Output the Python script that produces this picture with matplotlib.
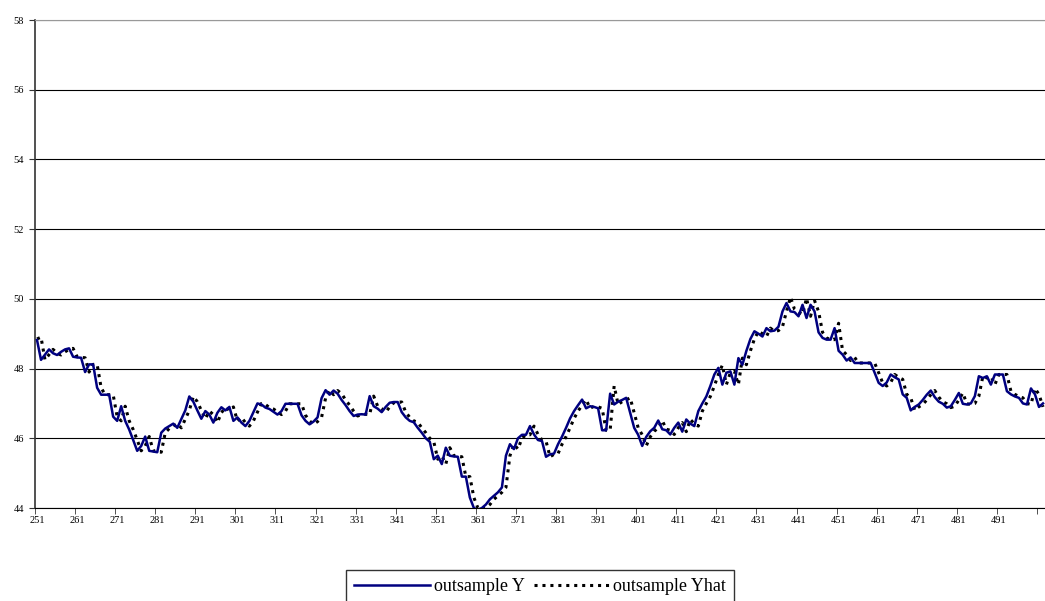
import numpy as np
import matplotlib
matplotlib.use('Agg')
import matplotlib.pyplot as plt
from matplotlib.lines import Line2D


# observation index 251..502
periods = np.arange(251, 503)

outsample_y = [
    48.82, 48.25, 48.40, 48.55, 48.44, 48.39, 48.48, 48.55, 48.58, 48.34,
    48.32, 48.31, 47.90, 48.12, 48.12, 47.45, 47.25, 47.25, 47.25, 46.62,
    46.50, 46.92, 46.50, 46.25, 45.95, 45.64, 45.78, 46.05, 45.64, 45.62,
    45.60, 46.16, 46.28, 46.35, 46.42, 46.30, 46.55, 46.80, 47.20, 47.05,
    46.80, 46.56, 46.78, 46.68, 46.45, 46.73, 46.89, 46.80, 46.90, 46.50,
    46.60, 46.45, 46.35, 46.50, 46.75, 47.00, 46.97, 46.88, 46.84, 46.76,
    46.68, 46.78, 46.99, 46.99, 46.99, 46.99, 46.66, 46.50, 46.40, 46.48,
    46.60, 47.15, 47.38, 47.25, 47.37, 47.28, 47.10, 46.95, 46.78, 46.64,
    46.68, 46.69, 46.68, 47.21, 46.92, 46.85, 46.75, 46.90, 47.02, 47.04,
    47.04, 46.75, 46.60, 46.50, 46.46, 46.30, 46.16, 46.00, 45.90, 45.40,
    45.50, 45.26, 45.73, 45.50, 45.48, 45.47, 44.90, 44.90, 44.30, 44.00,
    43.95, 44.00, 44.10, 44.25, 44.35, 44.45, 44.59, 45.50, 45.83, 45.69,
    46.00, 46.10, 46.10, 46.35, 46.11, 45.95, 45.92, 45.47, 45.54, 45.56,
    45.83, 46.05, 46.30, 46.57, 46.78, 46.95, 47.11, 46.86, 46.92, 46.90,
    46.86, 46.23, 46.23, 47.28, 46.97, 47.05, 47.10, 47.16, 46.73, 46.30,
    46.10, 45.78, 46.04, 46.20, 46.30, 46.51, 46.26, 46.23, 46.11, 46.30,
    46.45, 46.19, 46.54, 46.42, 46.35, 46.78, 47.00, 47.20, 47.50, 47.83,
    48.02, 47.54, 47.88, 47.92, 47.54, 48.30, 48.11, 48.51, 48.85, 49.07,
    49.00, 48.92, 49.16, 49.07, 49.09, 49.20, 49.64, 49.88, 49.64, 49.62,
    49.50, 49.83, 49.45, 49.83, 49.64, 49.04, 48.88, 48.83, 48.83, 49.16,
    48.51, 48.40, 48.23, 48.32, 48.16, 48.16, 48.16, 48.16, 48.16, 47.88,
    47.59, 47.50, 47.60, 47.83, 47.75, 47.69, 47.26, 47.16, 46.80, 46.90,
    46.97, 47.10, 47.25, 47.37, 47.18, 47.05, 46.99, 46.88, 46.92, 47.10,
    47.30, 46.99, 46.97, 47.00, 47.21, 47.78, 47.73, 47.78, 47.54, 47.83,
    47.83, 47.83, 47.35, 47.26, 47.20, 47.16, 47.00, 46.97, 47.43, 47.26,
    46.90, 47.00,
]

outsample_yhat = [
    48.85, 48.90, 48.25, 48.40, 48.55, 48.44, 48.39, 48.48, 48.55, 48.58,
    48.34, 48.32, 48.31, 47.90, 48.12, 48.12, 47.45, 47.25, 47.25, 47.25,
    46.62, 46.50, 46.92, 46.50, 46.25, 45.95, 45.64, 45.78, 46.05, 45.64,
    45.62, 45.60, 46.16, 46.28, 46.35, 46.42, 46.30, 46.55, 46.80, 47.20,
    47.05, 46.80, 46.56, 46.78, 46.68, 46.45, 46.73, 46.89, 46.80, 46.90,
    46.50, 46.60, 46.45, 46.35, 46.50, 46.75, 47.00, 46.97, 46.88, 46.84,
    46.76, 46.68, 46.78, 46.99, 46.99, 46.99, 46.99, 46.66, 46.50, 46.40,
    46.48, 46.60, 47.15, 47.38, 47.25, 47.37, 47.28, 47.10, 46.95, 46.78,
    46.64, 46.68, 46.69, 46.68, 47.21, 46.92, 46.85, 46.75, 46.90, 47.02,
    47.04, 47.04, 46.75, 46.60, 46.50, 46.46, 46.30, 46.16, 46.00, 45.90,
    45.40, 45.50, 45.26, 45.73, 45.50, 45.48, 45.47, 44.90, 44.90, 44.30,
    44.00, 43.95, 44.00, 44.10, 44.25, 44.35, 44.45, 44.59, 45.50, 45.83,
    45.69, 46.00, 46.10, 46.10, 46.35, 46.11, 45.95, 45.92, 45.47, 45.54,
    45.56, 45.83, 46.05, 46.30, 46.57, 46.78, 46.95, 47.11, 46.86, 46.92,
    46.90, 46.86, 46.23, 46.23, 47.50, 46.97, 47.05, 47.10, 47.16, 46.73,
    46.30, 46.10, 45.78, 46.04, 46.20, 46.30, 46.51, 46.26, 46.23, 46.11,
    46.30, 46.45, 46.19, 46.54, 46.42, 46.35, 46.78, 47.00, 47.20, 47.50,
    47.83, 48.10, 47.54, 47.88, 47.92, 47.54, 48.30, 48.11, 48.51, 48.85,
    49.07, 49.00, 48.92, 49.16, 49.07, 49.09, 49.20, 49.64, 50.05, 49.70,
    49.62, 49.55, 50.02, 49.50, 49.95, 49.64, 49.04, 48.88, 48.83, 48.83,
    49.30, 48.51, 48.40, 48.23, 48.32, 48.16, 48.16, 48.16, 48.16, 48.16,
    47.88, 47.59, 47.50, 47.60, 47.83, 47.75, 47.69, 47.26, 47.16, 46.80,
    46.90, 46.97, 47.10, 47.25, 47.37, 47.18, 47.05, 46.99, 46.88, 46.92,
    47.10, 47.30, 46.99, 46.97, 47.00, 47.21, 47.78, 47.73, 47.78, 47.54,
    47.83, 47.83, 47.83, 47.35, 47.26, 47.20, 47.16, 47.00, 46.97, 47.43,
    47.26, 46.90,
]

xtick_labels = [str(v) for v in range(251, 501, 10)]
ytick_vals = [44, 46, 48, 50, 52, 54, 56, 58]

plt.rcParams['font.family'] = ['Liberation Serif', 'DejaVu Serif']

fig = plt.figure(figsize=(10.45, 6.01), dpi=100)
ax = fig.add_axes([35/1045, 1 - 508/601, 1 - 35/1045, (508 - 20)/601])

# dotted forecast first, actual series drawn on top
ax.plot(periods, outsample_yhat, color='black', lw=2.2,
        linestyle=(0, (1.0, 1.6)), zorder=3)
ax.plot(periods, outsample_y, color='#000080', lw=1.8, zorder=4)

ax.set_xlim(250.5, 502.5)
ax.set_ylim(44, 58)

ax.set_yticks(ytick_vals)
ax.set_yticklabels([str(v) for v in ytick_vals], fontsize=7.5)
ax.set_xticks([int(v) for v in xtick_labels])
ax.set_xticklabels(xtick_labels, fontsize=7.5)
ax.set_xticks(np.arange(250.5, 503, 10), minor=True)
ax.tick_params(axis='x', which='major', length=0, pad=6)
ax.tick_params(axis='x', which='minor', length=4, direction='out',
               color='#333333')
ax.tick_params(axis='y', length=4, direction='out', pad=4, color='#333333')

ax.grid(axis='y', color='black', lw=0.8)
ax.set_axisbelow(True)
ax.spines['right'].set_visible(False)
ax.spines['top'].set_color('#999999')
ax.spines['left'].set_color('#333333')
ax.spines['left'].set_linewidth(1.2)
ax.spines['bottom'].set_color('black')

handles = [
    Line2D([], [], color='#000080', lw=1.8),
    Line2D([], [], color='black', lw=2.2, linestyle=(0, (1.0, 1.6))),
]
fig.legend(handles, ['outsample Y', 'outsample Yhat'],
           loc='upper center', bbox_to_anchor=(0.517, 1 - 570/601),
           ncol=2, fontsize=13, frameon=True, fancybox=False,
           edgecolor='black', handlelength=4.2, handletextpad=0.2,
           columnspacing=0.5, borderpad=0.45, borderaxespad=0)

plt.savefig('out.png', dpi=100)
